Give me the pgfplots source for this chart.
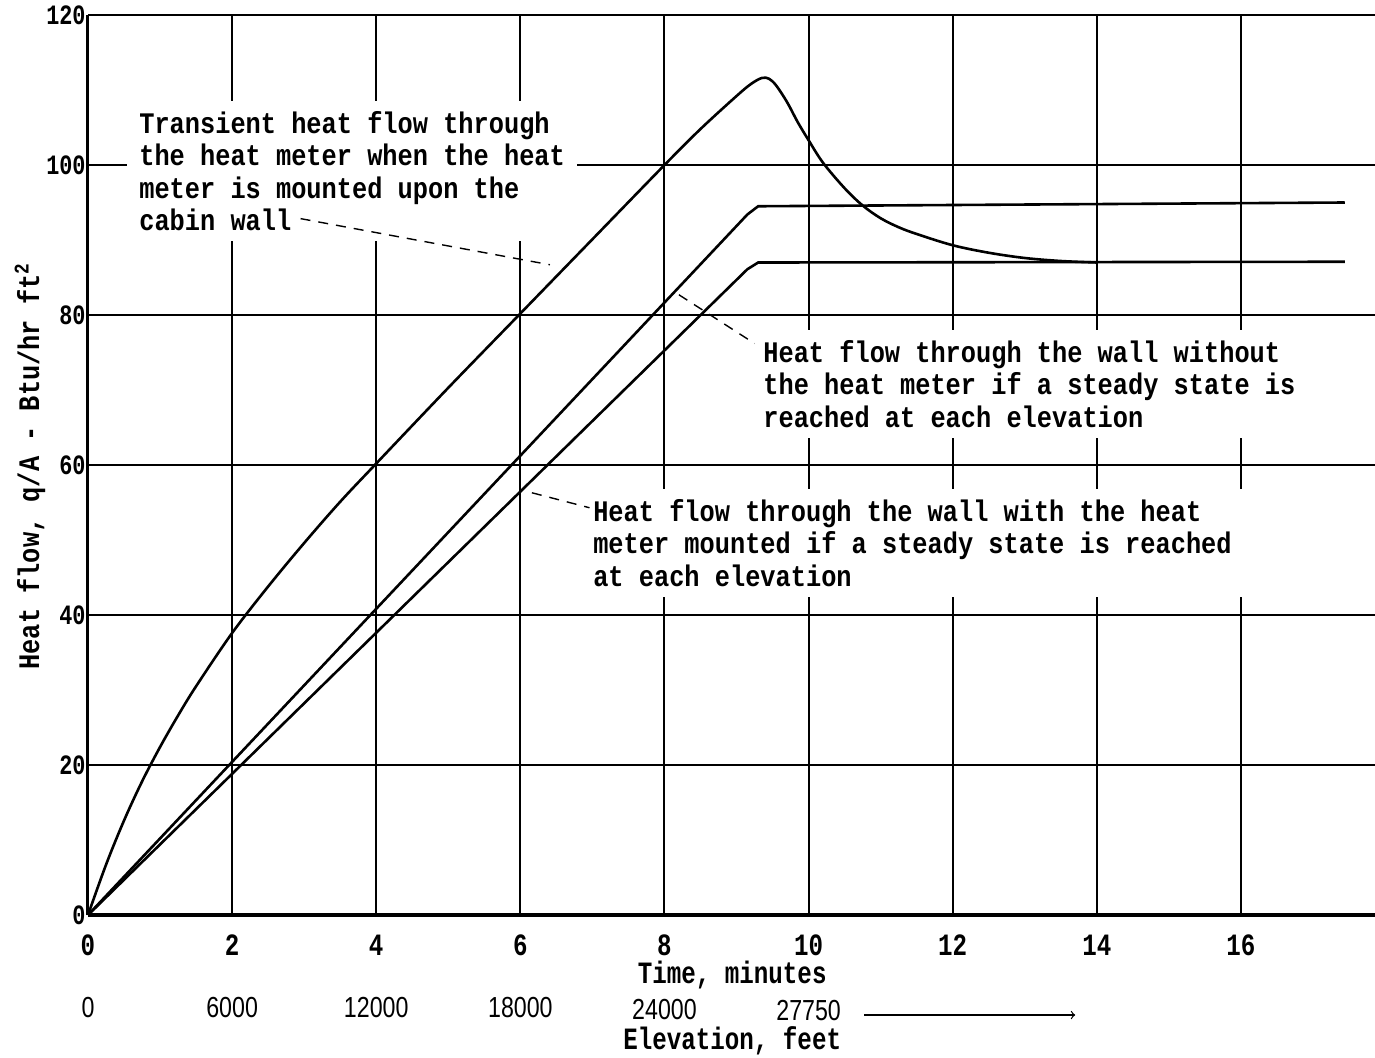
\documentclass[border=0pt]{standalone}
\usepackage{fontspec}
\usepackage{pgfplots}
\pgfplotsset{compat=1.18}
\setmainfont{Liberation Mono}
\newfontfamily\twfam[FakeStretch=0.85]{Liberation Mono}
\newfontfamily\tickfam[FakeStretch=0.78]{Liberation Mono}
\newfontfamily\elevfam[FakeStretch=0.8]{Liberation Sans}
\newcommand\notefont{\twfam\bfseries\fontsize{14.9}{16.25}\selectfont}
\newcommand\xtickfont{\tickfam\bfseries\fontsize{15.5}{16}\selectfont}
\newcommand\ytickfont{\tickfam\bfseries\fontsize{14}{15}\selectfont}
\newcommand\elevfont{\elevfam\fontsize{14.5}{15}\selectfont}

% transient heat flow through the meter
\pgfplotstableread{
t q
0 0
0.25 6.7
0.5 12.6
0.75 17.8
1 22.4
1.25 26.6
1.5 30.5
2 37.6
2.5 43.8
3 49.6
3.5 55.1
4 60.2
5 70.3
6 80.2
7 90.1
8 100
8.5 104.8
9 109.2
9.2 110.8
9.35 111.6
9.45 111.5
9.55 110.6
9.7 108.4
9.85 105.7
10 103.3
10.2 100.3
10.5 96.9
10.75 94.6
11 92.9
11.25 91.7
11.5 90.8
12 89.3
12.5 88.3
13 87.6
13.5 87.2
14 87
}\transient

\begin{document}
\begin{tikzpicture}
\begin{axis}[
  at={(0,0)}, anchor=south west,
  scale only axis, width=643.5pt, height=450pt,
  xmin=0, xmax=17.86, ymin=0, ymax=120,
  axis x line=bottom, axis y line=left,
  x axis line style={-, line width=2pt},
  y axis line style={-, line width=1.5pt},
  xtick={0,2,...,16}, ytick={0,20,...,120},
  major tick length=0pt,
  /pgf/number format/assume math mode=true,
  grid=major, major grid style={black, line width=1pt},
  xticklabel style={font=\xtickfont, anchor=center, yshift=-15pt},
  yticklabel style={font=\ytickfont, anchor=east, inner sep=1pt},
  clip=false,
]
\addplot[black, line width=1.3pt, smooth, tension=0.55] table[x=t, y=q] {\transient};
% steady state, without the meter
\addplot[black, line width=1.3pt] coordinates {(0,0) (9.15,93.4) (9.3,94.5) (17.44,95)};
% steady state, with the meter
\addplot[black, line width=1.3pt] coordinates {(0,0) (9.15,86.1) (9.3,87) (17.44,87.1)};

\node[fill=white, anchor=west, align=left, font=\notefont, inner xsep=6pt, inner ysep=5pt]
  at (axis cs:0.54,99.2) {Transient heat flow through\\the heat meter when the heat\\meter is mounted upon the\\cabin wall};
\node[fill=white, anchor=west, align=left, font=\notefont, inner xsep=6pt, inner ysep=5pt]
  at (axis cs:9.2,70.8) {Heat flow through the wall without\\the heat meter if a steady state is\\reached at each elevation};
\node[fill=white, anchor=west, align=left, font=\notefont, inner xsep=6pt, inner ysep=5pt]
  at (axis cs:6.84,49.6) {Heat flow through the wall with the heat\\meter mounted if a steady state is reached\\at each elevation};

\draw[dash pattern=on 5pt off 4pt, line width=0.7pt] (axis cs:2.95,92.85) -- (axis cs:6.41,86.7);
\draw[dash pattern=on 5pt off 4pt, line width=0.7pt] (axis cs:8.2,82.7) -- (axis cs:9.25,76.2);
\draw[dash pattern=on 5pt off 4pt, line width=0.7pt] (axis cs:6.16,56.3) -- (axis cs:6.96,54.3);

\node[font=\xtickfont, inner sep=1pt] at ([yshift=-30pt]axis cs:8.94,0) {Time, minutes};
\node[font=\elevfont, inner sep=1pt] at ([yshift=-46.5pt]axis cs:0,0) {0};
\node[font=\elevfont, inner sep=1pt] at ([yshift=-46.5pt]axis cs:2,0) {6000};
\node[font=\elevfont, inner sep=1pt] at ([yshift=-46.5pt]axis cs:4,0) {12000};
\node[font=\elevfont, inner sep=1pt] at ([yshift=-46.5pt]axis cs:6,0) {18000};
\node[font=\elevfont, inner sep=1pt] at ([yshift=-47.5pt]axis cs:8,0) {24000};
\node[font=\elevfont, inner sep=1pt] at ([yshift=-48pt]axis cs:10,0) {27750};
\draw[->, line width=0.6pt] ([yshift=-50pt]axis cs:10.77,0) -- ([yshift=-50pt]axis cs:13.7,0);
\node[font=\xtickfont, inner sep=1pt] at ([yshift=-63pt]axis cs:8.94,0) {Elevation, feet};
\end{axis}
\node[rotate=90, font=\notefont] at (-29pt,224.5pt) {Heat flow, q/A - Btu/hr ft\textsuperscript{2}};
\pgfresetboundingbox
\path[use as bounding box] (-44pt,-71pt) rectangle (643.5pt,457.5pt);
\end{tikzpicture}
\end{document}
